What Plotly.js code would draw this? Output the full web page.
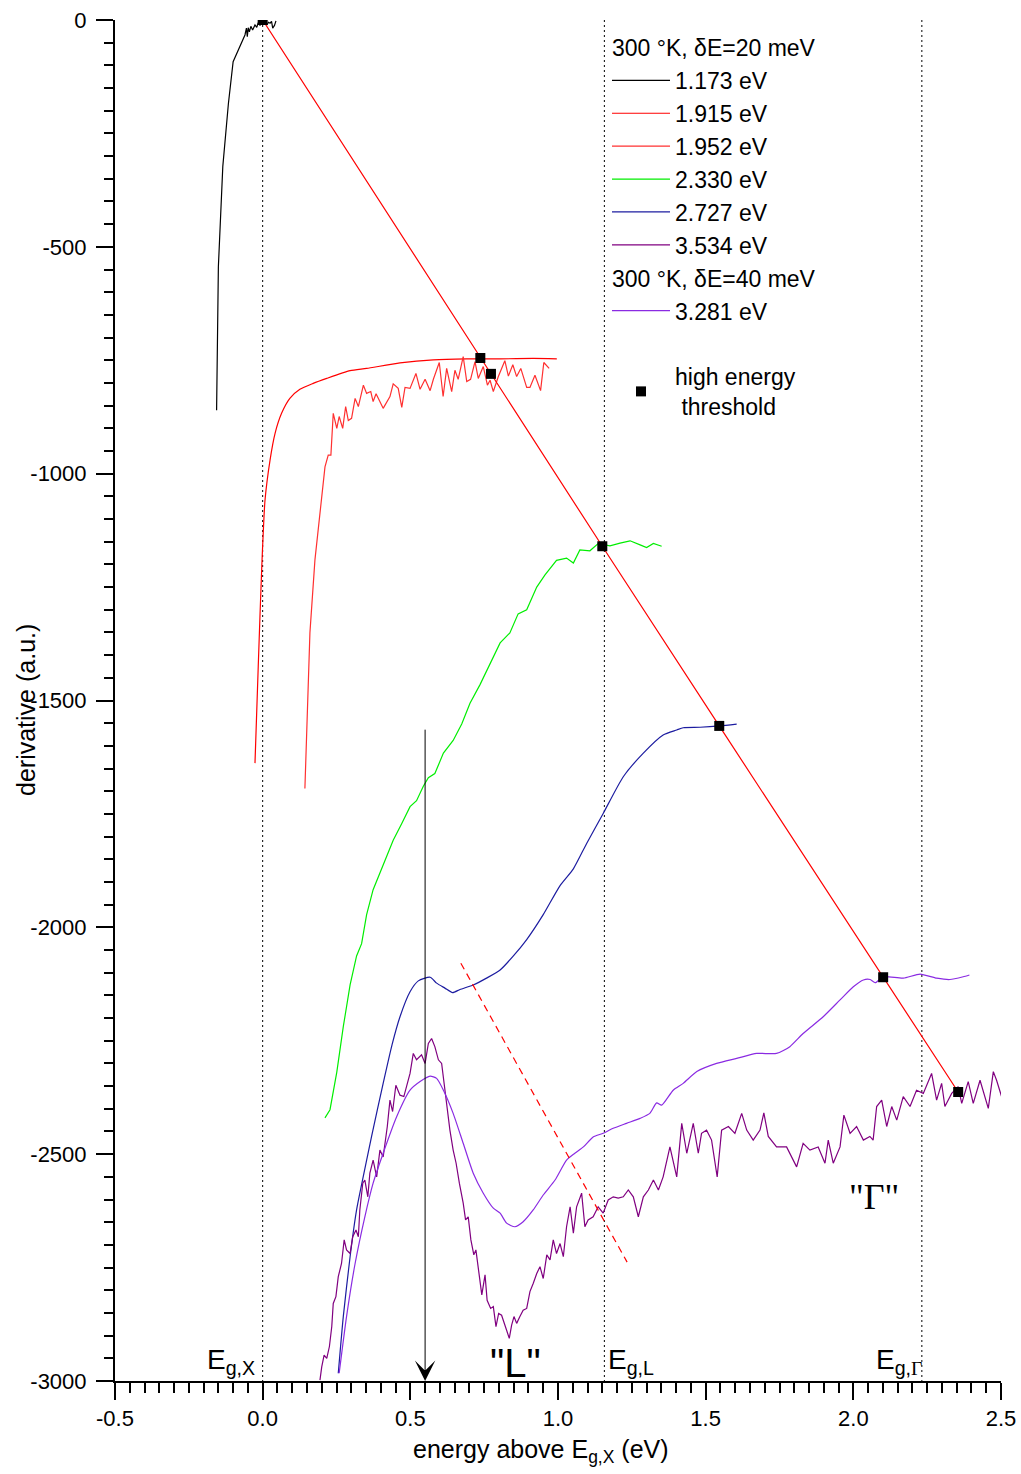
<!DOCTYPE html>
<html>
<head>
<meta charset="utf-8">
<script src="https://cdn.plot.ly/plotly-3.0.1.min.js"></script>
<style>html,body{margin:0;padding:0;background:#fff;}#chart{width:1021px;height:1474px;}</style>
</head>
<body>
<div id="chart"></div>
<script>
// ---------------- data (energy above Eg,X in eV ; derivative in a.u.) ----------------
const seriesNames = ['1.173 eV','1.915 eV','1.952 eV','2.330 eV','2.727 eV','3.534 eV','3.281 eV'];

const x1173 = [-0.156,-0.150,-0.135,-0.116,-0.100,-0.086,-0.066,-0.060,-0.055,-0.052,-0.049,-0.045,-0.040,-0.034,-0.026,-0.020,-0.015,-0.009,-0.003,0.003,0.008,0.014,0.020,0.025,0.030,0.034,0.040,0.045];
const y1173 = [-860,-544,-323,-184,-92,-70,-42,-33,-18,-37,-17,-26,-14,-22,-11,-16,-6,-12,-4,-9,-3,-11,-5,-7,-3,-18,-12,-2];

const x1915 = [-0.026,-0.015,-0.003,0.008,0.025,0.042,0.064,0.092,0.126,0.171,0.217,0.296,0.352,0.465,0.578,0.691,0.804,0.916,0.996];
const y1915 = [-1638,-1425,-1205,-1058,-970,-911,-867,-834,-814,-801,-790,-773,-768,-756,-749,-747,-747,-746,-747];

const x1952 = [0.143,0.160,0.177,0.194,0.211,0.222,0.231,0.239,0.251,0.259,0.271,0.281,0.290,0.301,0.313,0.324,0.341,0.352,0.366,0.374,0.384,0.408,0.431,0.442,0.459,0.471,0.482,0.499,0.519,0.533,0.550,0.567,0.578,0.598,0.611,0.623,0.640,0.651,0.662,0.679,0.691,0.704,0.719,0.730,0.747,0.761,0.770,0.781,0.798,0.820,0.832,0.847,0.860,0.874,0.894,0.905,0.922,0.941,0.952,0.970];
const y1952 = [-1694,-1351,-1190,-1080,-985,-959,-959,-867,-900,-874,-900,-852,-883,-878,-834,-852,-805,-823,-819,-841,-824,-856,-830,-802,-812,-854,-810,-812,-779,-814,-792,-817,-792,-755,-830,-768,-819,-772,-792,-742,-797,-792,-753,-790,-764,-805,-794,-819,-786,-751,-785,-760,-786,-768,-810,-810,-783,-817,-755,-768];

const x2330 = [0.211,0.228,0.251,0.273,0.296,0.318,0.335,0.352,0.374,0.397,0.420,0.442,0.471,0.499,0.521,0.544,0.561,0.583,0.612,0.645,0.674,0.702,0.736,0.770,0.804,0.837,0.865,0.894,0.928,0.956,0.995,1.029,1.052,1.074,1.108,1.136,1.176,1.210,1.244,1.278,1.300,1.323,1.351];
const y2330 = [-2420,-2402,-2319,-2219,-2127,-2063,-2036,-1972,-1917,-1881,-1844,-1808,-1771,-1734,-1721,-1689,-1670,-1661,-1616,-1588,-1552,-1506,-1465,-1419,-1373,-1351,-1309,-1300,-1250,-1223,-1191,-1186,-1197,-1168,-1170,-1154,-1159,-1153,-1148,-1157,-1163,-1154,-1160];

const x2727 = [0.256,0.273,0.296,0.318,0.336,0.369,0.408,0.438,0.465,0.499,0.527,0.567,0.589,0.617,0.643,0.668,0.713,0.758,0.804,0.849,0.894,0.950,1.007,1.052,1.097,1.153,1.221,1.289,1.356,1.402,1.424,1.481,1.548,1.605];
const y2727 = [-2983,-2858,-2726,-2623,-2564,-2460,-2344,-2259,-2197,-2142,-2118,-2110,-2123,-2134,-2144,-2137,-2127,-2112,-2094,-2063,-2027,-1972,-1908,-1871,-1815,-1749,-1668,-1616,-1576,-1565,-1560,-1559,-1556,-1552];

const x3534 = [0.194,0.200,0.208,0.217,0.226,0.234,0.239,0.248,0.256,0.267,0.276,0.284,0.296,0.305,0.316,0.324,0.329,0.339,0.346,0.356,0.363,0.374,0.386,0.397,0.408,0.422,0.431,0.440,0.451,0.465,0.478,0.488,0.499,0.510,0.521,0.538,0.550,0.561,0.572,0.583,0.595,0.606,0.614,0.623,0.634,0.645,0.655,0.666,0.679,0.687,0.696,0.705,0.715,0.722,0.732,0.742,0.753,0.760,0.772,0.781,0.790,0.799,0.809,0.817,0.826,0.835,0.843,0.851,0.860,0.871,0.882,0.894,0.905,0.916,0.928,0.939,0.950,0.962,0.973,0.984,0.995,1.007,1.018,1.029,1.041,1.052,1.063,1.080,1.091,1.102,1.119,1.136,1.153,1.170,1.187,1.204,1.221,1.238,1.255,1.272,1.289,1.306,1.323,1.340,1.356,1.379,1.402,1.419,1.436,1.458,1.475,1.486,1.503,1.520,1.539,1.554,1.577,1.599,1.622,1.639,1.661,1.684,1.697,1.712,1.740,1.774,1.808,1.830,1.853,1.881,1.904,1.915,1.932,1.955,1.968,1.989,2.011,2.034,2.056,2.067,2.079,2.096,2.113,2.130,2.147,2.169,2.192,2.214,2.237,2.265,2.282,2.299,2.310,2.333,2.355,2.367,2.389,2.406,2.429,2.457,2.474,2.485,2.502];
const y3534 = [-2998,-2969,-2943,-2950,-2924,-2880,-2829,-2814,-2770,-2741,-2689,-2711,-2719,-2682,-2667,-2682,-2623,-2564,-2557,-2594,-2542,-2513,-2550,-2491,-2506,-2439,-2381,-2406,-2348,-2370,-2373,-2351,-2322,-2278,-2292,-2281,-2300,-2256,-2245,-2263,-2292,-2300,-2344,-2388,-2447,-2491,-2520,-2564,-2608,-2645,-2638,-2689,-2722,-2711,-2755,-2810,-2766,-2822,-2840,-2836,-2880,-2851,-2855,-2873,-2888,-2906,-2877,-2858,-2873,-2858,-2844,-2840,-2803,-2785,-2763,-2748,-2774,-2722,-2733,-2689,-2719,-2697,-2726,-2660,-2616,-2674,-2616,-2586,-2660,-2645,-2638,-2616,-2630,-2601,-2594,-2597,-2594,-2579,-2594,-2638,-2594,-2579,-2557,-2579,-2550,-2484,-2550,-2432,-2498,-2432,-2498,-2454,-2447,-2469,-2550,-2447,-2439,-2454,-2410,-2447,-2469,-2447,-2409,-2461,-2484,-2484,-2528,-2476,-2491,-2484,-2520,-2469,-2520,-2484,-2414,-2454,-2439,-2469,-2461,-2469,-2395,-2381,-2439,-2395,-2425,-2373,-2395,-2359,-2366,-2322,-2381,-2344,-2395,-2366,-2351,-2388,-2340,-2388,-2337,-2399,-2318,-2337,-2373];

const x3281 = [0.259,0.284,0.313,0.346,0.374,0.408,0.454,0.499,0.533,0.567,0.589,0.612,0.645,0.679,0.713,0.747,0.781,0.804,0.826,0.854,0.882,0.916,0.950,0.990,1.029,1.057,1.086,1.119,1.153,1.187,1.232,1.278,1.311,1.334,1.351,1.390,1.424,1.470,1.537,1.605,1.673,1.740,1.785,1.830,1.898,1.955,2.000,2.034,2.057,2.074,2.102,2.169,2.226,2.282,2.327,2.372,2.393];
const y3281 = [-2983,-2858,-2741,-2638,-2564,-2498,-2417,-2359,-2340,-2328,-2333,-2359,-2410,-2476,-2542,-2586,-2619,-2630,-2652,-2660,-2649,-2623,-2590,-2557,-2513,-2498,-2484,-2462,-2454,-2443,-2432,-2421,-2410,-2387,-2392,-2359,-2344,-2318,-2300,-2289,-2278,-2278,-2263,-2234,-2197,-2160,-2131,-2116,-2115,-2122,-2109,-2112,-2103,-2112,-2115,-2109,-2105];

// high energy thresholds
const thresholdX = [0, 0.737, 0.773, 1.150, 1.546, 2.101, 2.355];
const thresholdY = [0, -745, -780, -1160, -1556, -2110, -2363];

// dashed guide through the "L" feature
const guideX = [0.671, 1.234];
const guideY = [-2079, -2738];

// arrow marking the L peak
const arrowX = 0.55, arrowTopY = -1561, arrowBottomY = -3000;

// band gap markers
const gapX = [0, 1.157, 2.232];

// axis ticks
const xTickVals = [-0.5, 0, 0.5, 1.0, 1.5, 2.0, 2.5];
const xTickText = ['-0.5','0.0','0.5','1.0','1.5','2.0','2.5'];
const yTickVals = [0, -500, -1000, -1500, -2000, -2500, -3000];
const yTickText = ['0','-500','-1000','-1500','-2000','-2500','-3000'];

// ---------------- chart ----------------
const FONT = 'Liberation Sans, Arial, sans-serif';
const LW = 1.2;
const g1 = '300 °K, δE=20 meV';
const g2 = '300 °K, δE=40 meV';

function curve(x, y, name, color, group, title, smooth) {
  const t = {x: x, y: y, name: name, type: 'scatter', mode: 'lines',
    line: {color: color, width: LW}, legendgroup: group};
  if (smooth) { t.line.shape = 'spline'; t.line.smoothing = 0.6; }
  if (title) t.legendgrouptitle = {text: title};
  return t;
}

const traces = [
  curve(x1173, y1173, seriesNames[0], '#000000', 'g1', g1, false),
  curve(x1915, y1915, seriesNames[1], '#ff0000', 'g1', null, true),
  curve(x1952, y1952, seriesNames[2], '#ff3030', 'g1', null, false),
  curve(x2330, y2330, seriesNames[3], '#00ee00', 'g1', null, false),
  curve(x2727, y2727, seriesNames[4], '#1c1ca0', 'g1', null, true),
  curve(x3534, y3534, seriesNames[5], '#800080', 'g1', null, false),
  curve(x3281, y3281, seriesNames[6], '#8a2be2', 'g2', g2, true),
  {x: guideX, y: guideY, type: 'scatter', mode: 'lines', showlegend: false,
    line: {color: '#ff0000', width: 1.2, dash: '7px,5px'}, hoverinfo: 'skip'},
  {x: thresholdX, y: thresholdY, type: 'scatter', mode: 'lines', showlegend: false,
    line: {color: '#ff0000', width: 1.2}, hoverinfo: 'skip'},
  {x: thresholdX, y: thresholdY, type: 'scatter', mode: 'markers',
    name: 'high energy<br>\u00a0threshold', legendgroup: 'g3',
    legendgrouptitle: {text: '\u00a0'},
    marker: {symbol: 'square', size: 10, color: '#000000'}}
];

const shapes = gapX.map(gx => ({
  type: 'line', xref: 'x', yref: 'y', x0: gx, x1: gx, y0: 0, y1: -3000,
  line: {color: '#000000', width: 1, dash: '2px,3px'}, layer: 'below'
}));

const annotations = [
  {x: arrowX, y: arrowBottomY, ax: arrowX, ay: arrowTopY, axref: 'x', ayref: 'y',
   xref: 'x', yref: 'y', text: '', showarrow: true, arrowhead: 3, arrowsize: 3.4,
   arrowwidth: 1, arrowcolor: '#000000', standoff: 0},
  {x: gapX[0], y: -3000, xref: 'x', yref: 'y', xanchor: 'right', yanchor: 'bottom',
   xshift: -6, yshift: 0, showarrow: false, text: 'E<sub>g,X</sub>',
   font: {family: FONT, size: 28, color: '#000'}},
  {x: gapX[1], y: -3000, xref: 'x', yref: 'y', xanchor: 'left', yanchor: 'bottom',
   xshift: 2, yshift: 0, showarrow: false, text: 'E<sub>g,L</sub>',
   font: {family: FONT, size: 28, color: '#000'}},
  {x: gapX[2], y: -3000, xref: 'x', yref: 'y', xanchor: 'right', yanchor: 'bottom',
   xshift: 2, yshift: 0, showarrow: false,
   text: 'E<sub>g,<span style="font-family:Liberation Serif">Γ</span></sub>',
   font: {family: FONT, size: 28, color: '#000'}},
  {x: 0.855, y: -3000, xref: 'x', yref: 'y', xanchor: 'center', yanchor: 'bottom',
   yshift: -6, showarrow: false, text: '"L"',
   font: {family: FONT, size: 40, color: '#000'}},
  {x: 2.071, y: -2594, xref: 'x', yref: 'y', xanchor: 'center', yanchor: 'middle',
   showarrow: false, text: '"Γ"',
   font: {family: 'Liberation Serif, Times New Roman, serif', size: 36, color: '#000'}},
  {x: -0.1005, y: 0.493, xref: 'paper', yref: 'paper', xanchor: 'center', yanchor: 'middle',
   textangle: -90, showarrow: false, text: 'derivative (a.u.)',
   font: {family: FONT, size: 25, color: '#000'}},
  {x: 0.4808, y: 0, xref: 'paper', yref: 'paper', xanchor: 'center', yanchor: 'middle',
   yshift: -70, showarrow: false, text: 'energy above E<sub>g,X</sub> (eV)',
   font: {family: FONT, size: 25, color: '#000'}}
];

const axisCommon = {
  showgrid: false, zeroline: false, showline: true, linecolor: '#000', linewidth: 2,
  ticks: 'outside', ticklen: 17, tickwidth: 2, tickcolor: '#000',
  tickmode: 'array', tickfont: {family: FONT, size: 22, color: '#000'}, mirror: false
};

const layout = {
  width: 1021, height: 1474,
  margin: {l: 115, r: 20, t: 20, b: 93, pad: 0},
  paper_bgcolor: '#ffffff', plot_bgcolor: '#ffffff',
  font: {family: FONT, size: 22, color: '#000'},
  showlegend: true,
  legend: {
    x: 0.5553, xanchor: 'left', y: 0.9956, yanchor: 'top',
    bgcolor: 'rgba(0,0,0,0)', borderwidth: 0,
    font: {family: FONT, size: 23, color: '#000'},
    grouptitlefont: {family: FONT, size: 23, color: '#000'},
    traceorder: 'grouped', tracegroupgap: 0, itemwidth: 58, itemclick: false
  },
  xaxis: Object.assign({}, axisCommon, {
    range: [-0.5, 2.5], tickvals: xTickVals, ticktext: xTickText,
    minor: {tickmode: 'linear', tick0: 0, dtick: 0.05, ticks: 'outside', ticklen: 10, tickwidth: 2, tickcolor: '#000', showgrid: false}
  }),
  yaxis: Object.assign({}, axisCommon, {
    range: [-3000, 0], tickvals: yTickVals, ticktext: yTickText, ticklabelstandoff: 5,
    minor: {tickmode: 'linear', tick0: 0, dtick: 50, ticks: 'outside', ticklen: 9, tickwidth: 2, tickcolor: '#000', showgrid: false}
  }),
  shapes: shapes,
  annotations: annotations
};

Plotly.newPlot('chart', traces, layout, {staticPlot: true, displayModeBar: false});
</script>
</body>
</html>
